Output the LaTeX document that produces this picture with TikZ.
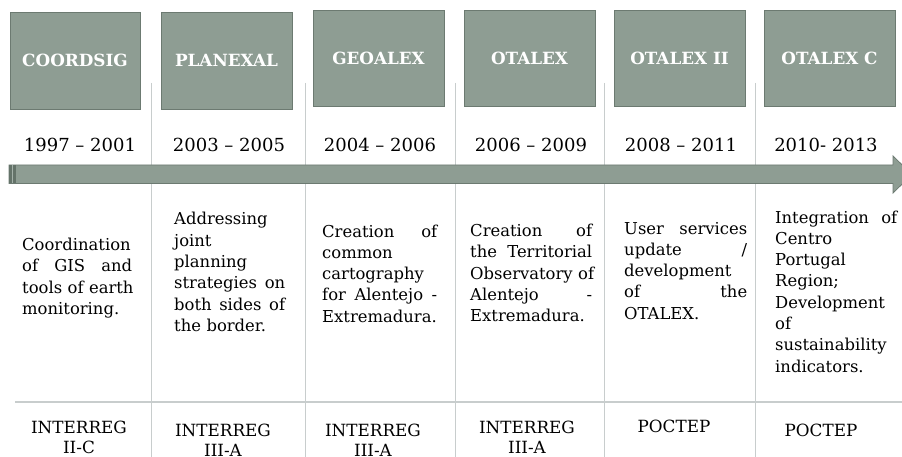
\documentclass[tikz,border=0pt]{standalone}
\usepackage{fontspec}
\setmainfont{DejaVu Serif}
\definecolor{boxfill}{RGB}{142,157,147}
\definecolor{boxedge}{RGB}{108,122,113}
\definecolor{stripe}{RGB}{100,115,105}
\definecolor{divider}{RGB}{200,205,205}
\newcommand\JL[1]{\noindent\hbox to \linewidth{#1}\par}
\newcommand\LL[1]{\noindent\hbox to \linewidth{#1\hfil}\par}
\tikzset{
  projbox/.style={draw=boxedge, line width=0.9pt, fill=boxfill, text=white, inner sep=0pt,
    minimum width=131pt, font=\fontsize{16.8}{19}\selectfont\bfseries},
  yeartext/.style={anchor=base, inner sep=0pt, font=\fontsize{18}{22}\selectfont},
  desctext/.style={anchor=base west, inner sep=0pt, align=left, font=\fontsize{16.4}{21.3}\selectfont},
  progtext/.style={anchor=base, inner sep=0pt, text width=130pt, align=center, font=\fontsize{16.8}{20}\selectfont},
  divline/.style={draw=divider, line width=1pt}
}
\begin{document}
\begin{tikzpicture}[x=1pt,y=-1pt]
\useasboundingbox (0,0) rectangle (902,457);
\clip (0,0) rectangle (902,457);
% dividers
\coordinate (v1t) at (151,83); \coordinate (v1b) at (151,457);
\coordinate (v2t) at (305,83); \coordinate (v2b) at (305,457);
\coordinate (v3t) at (455,83); \coordinate (v3b) at (455,457);
\coordinate (v4t) at (604,83); \coordinate (v4b) at (604,457);
\coordinate (v5t) at (755,83); \coordinate (v5b) at (755,457);
\coordinate (hl) at (15,402); \coordinate (hr) at (902,402);
\foreach \i in {1,...,5} {\draw[divline] (v\i t) -- (v\i b);}
\draw[divline, line width=1.5pt] (hl) -- (hr);
% boxes
\node[projbox, minimum height=97pt, minimum width=130pt] (b1) at (75,60.5) {COORDSIG};
\node[projbox, minimum height=97pt] (b2) at (226.5,60.5) {PLANEXAL};
\node[projbox, minimum height=96pt] (b3) at (378.5,58) {GEOALEX};
\node[projbox, minimum height=96pt] (b4) at (529.5,58) {OTALEX};
\node[projbox, minimum height=96pt] (b5) at (679.5,58) {OTALEX II};
\node[projbox, minimum height=96pt] (b6) at (829.5,58) {OTALEX C};
% years
\node[yeartext] (y1) at (80,152) {1997 -- 2001};
\node[yeartext] (y2) at (229,152) {2003 -- 2005};
\node[yeartext] (y3) at (380,152) {2004 -- 2006};
\node[yeartext] (y4) at (531,152) {2006 -- 2009};
\node[yeartext] (y5) at (681,152) {2008 -- 2011};
\node[yeartext] (y6) at (826,152) {2010- 2013};
% arrow
\fill[boxfill, draw=boxedge, line width=0.8pt] (9,165) -- (893,165) -- (893,156) -- (912,174.5) -- (893,193) -- (893,183.5) -- (9,183.5) -- cycle;
\fill[stripe] (9,165) rectangle (16,183.5);
\draw[boxfill!80!white, line width=0.8pt] (12.5,165.5) -- (12.5,183);
% descriptions
\node[desctext, text width=110pt] (d1) at (22,250.5) {\JL{Coordination}\JL{of \hfill GIS \hfill and}\JL{tools \hfill of \hfill earth}\LL{monitoring.}};
\node[desctext, text width=111pt] (d2) at (174,225) {\LL{Addressing}\LL{joint}\LL{planning}\JL{strategies \hfill on}\JL{both \hfill sides \hfill of}\LL{the border.}};
\node[desctext, text width=115pt] (d3) at (322,237) {\JL{Creation \hfill of}\LL{common}\LL{cartography}\JL{for \hfill Alentejo \hfill -}\LL{Extremadura.}};
\node[desctext, text width=122pt] (d4) at (470,236.5) {\JL{Creation \hfill of}\JL{the \hfill Territorial}\JL{Observatory \hfill of}\JL{Alentejo \hfill -}\LL{Extremadura.}};
\node[desctext, text width=123pt] (d5) at (624,234) {\JL{User \hfill services}\JL{update \hfill /}\LL{development}\JL{of \hfill the}\LL{OTALEX.}};
\node[desctext, text width=122pt] (d6) at (775,223) {\JL{Integration \hfill of}\LL{Centro}\LL{Portugal}\LL{Region;}\LL{Development}\LL{of}\LL{sustainability}\LL{indicators.}};
% programmes
\node[progtext] (p1) at (79,433) {INTERREG\\ II-C};
\node[progtext] (p2) at (223,436) {INTERREG\\ III-A};
\node[progtext] (p3) at (373,436) {INTERREG\\ III-A};
\node[progtext] (p4) at (527,433) {INTERREG\\ III-A};
\node[progtext] (p5) at (674,432) {POCTEP};
\node[progtext] (p6) at (821,436) {POCTEP};
\end{tikzpicture}
\end{document}
